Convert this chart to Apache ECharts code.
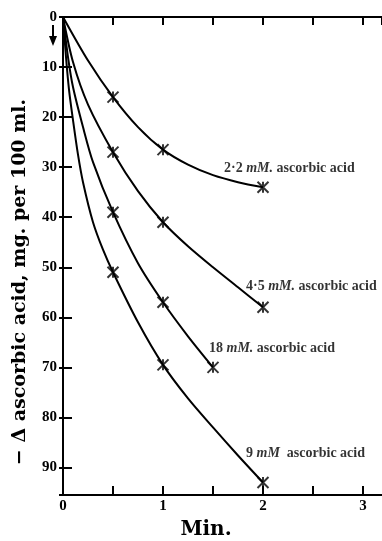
<!DOCTYPE html>
<html><head><meta charset="utf-8">
<script src="https://cdn.jsdelivr.net/npm/echarts@6/dist/echarts.min.js"></script>
<style>html,body{margin:0;padding:0;background:#fff}#c{width:382px;height:541px}</style>
</head><body><div id="c"></div>
<script>
// ---- data ----
const curveNames = ['2·2', '4·5', '18', '9'];
const curveUnits = ['mM.', 'mM.', 'mM.', 'mM'];
const curveGaps = [' ', ' ', ' ', '  '];

// measured points (markers)
const mark22T = [0.5, 1, 2];   const mark22V = [16, 26.5, 34];
const mark45T = [0.5, 1, 2];   const mark45V = [27, 41, 58];
const mark18T = [0.5, 1, 1.5]; const mark18V = [39, 57, 70];
const mark9T  = [0.5, 1, 2];   const mark9V  = [51, 69.5, 93];

// traced curve points
const trace22T = [0, 0.25, 0.5, 0.75, 1, 1.25, 1.5, 1.75, 2];
const trace22V = [0, 8.7, 16, 22, 26.5, 29.5, 31.6, 33.0, 34];
const trace45T = [0, 0.1, 0.25, 0.5, 0.75, 1, 1.25, 1.5, 1.75, 2];
const trace45V = [0, 9, 17.5, 27, 34.8, 41, 45.8, 50, 54, 58];
const trace18T = [0, 0.05, 0.1, 0.2, 0.3, 0.5, 0.75, 1, 1.25, 1.5];
const trace18V = [0, 8, 14, 22, 29, 39, 49.2, 57, 63.8, 70];
const trace9T  = [0, 0.03, 0.06, 0.1, 0.15, 0.2, 0.3, 0.4, 0.5, 0.75, 1, 1.25, 1.5, 1.75, 2];
const trace9V  = [0, 8, 14.5, 20.6, 27.5, 33, 41, 46.5, 51, 61, 69.5, 76.2, 82, 87.6, 93];

const xTickLabels = ['0', '1', '2', '3'];
const yTickLabels = ['0', '10', '20', '30', '40', '50', '60', '70', '80', '90'];

// ---- chart ----
const FONT = 'Liberation Serif';
const TITLE_FONT = 'DejaVu Serif';
const marks = [[mark22T, mark22V], [mark45T, mark45V], [mark18T, mark18V], [mark9T, mark9V]];
const traces = [[trace22T, trace22V], [trace45T, trace45V], [trace18T, trace18V], [trace9T, trace9V]];
const labelOffsets = [[-39, 1], [-17, -1], [-4, 1], [-17, -9]];
const X_SYMBOL = 'path://M0,0L10,10M10,0L0,10M5,0L5,10';

const series = [];
traces.forEach(([ts, vs], k) => {
  series.push({
    type: 'line', smooth: 0.3, showSymbol: false, silent: true,
    data: ts.map((t, i) => [t, vs[i]]),
    lineStyle: {color: '#000', width: 2}
  });
});
marks.forEach(([ts, vs], k) => {
  series.push({
    type: 'scatter', symbol: X_SYMBOL, symbolSize: 11, silent: true,
    itemStyle: {color: 'none', borderColor: '#000', borderWidth: 2},
    data: ts.map((t, i) => {
      const item = {value: [t, vs[i]]};
      if (i === ts.length - 1) {
        item.label = {
          show: true, position: 'top', align: 'left',
          offset: labelOffsets[k],
          formatter: '{a|' + curveNames[k] + ' }{b|' + curveUnits[k] + '}{a|' + curveGaps[k] + 'ascorbic acid}',
          rich: {
            a: {fontFamily: FONT, fontSize: 14, fontWeight: 'bold', color: '#000'},
            b: {fontFamily: FONT, fontSize: 14, fontWeight: 'bold', fontStyle: 'italic', color: '#000'}
          }
        };
      }
      return item;
    })
  });
});

const axisLineStyle = {color: '#000', width: 2};
const option = {
  animation: false,
  backgroundColor: '#fff',
  grid: {left: 63, top: 17, width: 319, height: 478},
  xAxis: [{
    type: 'value', min: 0, max: 3.19, interval: 0.5, position: 'bottom',
    axisLine: {show: true, onZero: false, lineStyle: axisLineStyle},
    axisTick: {show: true, inside: true, length: 9, lineStyle: {color: '#000', width: 2}},
    splitLine: {show: false},
    axisLabel: {
      margin: 4, color: '#000', fontFamily: FONT, fontSize: 15, fontWeight: 'bold',
      showMaxLabel: false,
      formatter: v => { const i = xTickLabels.indexOf(String(v)); return i >= 0 ? xTickLabels[i] : ''; }
    }
  }, {
    type: 'value', min: 0, max: 3.19, interval: 0.5, position: 'top',
    axisLine: {show: true, onZero: false, lineStyle: axisLineStyle},
    axisTick: {show: true, inside: true, length: 8, lineStyle: {color: '#000', width: 2}},
    splitLine: {show: false}, axisLabel: {show: false}
  }],
  yAxis: [{
    type: 'value', inverse: true, min: 0, max: 95.5, interval: 10, position: 'left',
    axisLine: {show: true, onZero: false, lineStyle: axisLineStyle},
    axisTick: {show: true, inside: true, length: 9, lineStyle: {color: '#000', width: 2}},
    splitLine: {show: false},
    axisLabel: {
      margin: 6, color: '#000', fontFamily: FONT, fontSize: 15, fontWeight: 'bold',
      showMaxLabel: false,
      formatter: v => { const i = yTickLabels.indexOf(String(v)); return i >= 0 ? yTickLabels[i] : ''; }
    }
  }, {
    type: 'value', inverse: true, min: 0, max: 95.5, interval: 10, position: 'right',
    axisLine: {show: false},
    axisTick: {show: true, inside: true, length: 4, lineStyle: {color: '#000', width: 2}},
    splitLine: {show: false}, axisLabel: {show: false}
  }],
  graphic: [
    {type: 'line', shape: {x1: 53, y1: 25, x2: 53, y2: 41}, style: {stroke: '#000', lineWidth: 2}},
    {type: 'polygon', shape: {points: [[49, 36], [57, 36], [53, 46]]}, style: {fill: '#000'}},
    {type: 'text', x: 20, y: 282, rotation: Math.PI / 2,
     style: {text: '− Δ ascorbic acid, mg. per 100 ml.', font: 'bold 19px "' + TITLE_FONT + '"', fill: '#000',
             align: 'center', verticalAlign: 'middle'}},
    {type: 'text', x: 206, y: 530,
     style: {text: 'Min.', font: 'bold 20px "' + TITLE_FONT + '"', fill: '#000', align: 'center', verticalAlign: 'middle'}}
  ],
  series: series
};
const chart = echarts.init(document.getElementById('c'), null, {renderer: 'canvas'});
chart.setOption(option);
</script>
</body></html>
